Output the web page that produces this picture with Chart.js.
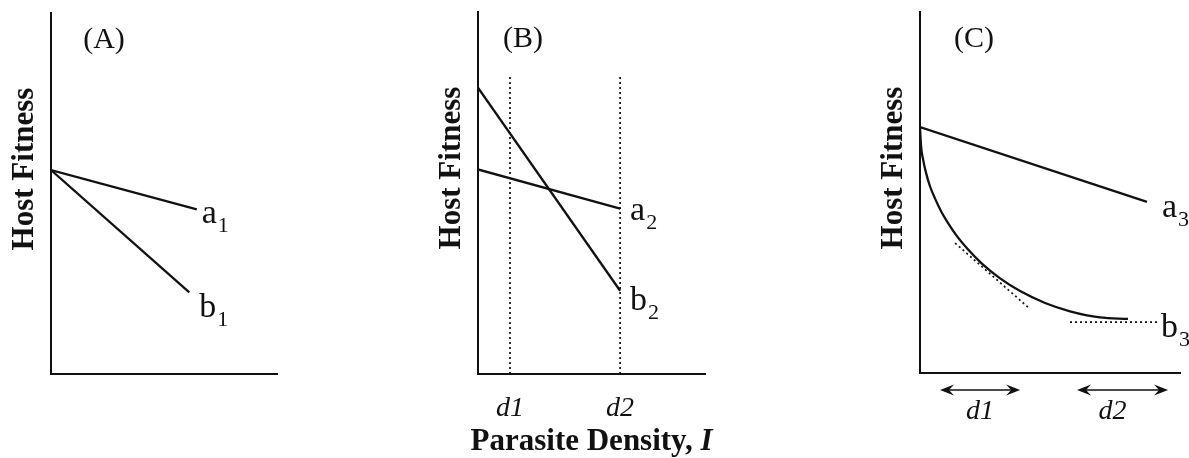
<!DOCTYPE html>
<html>
<head>
<meta charset="utf-8">
<script src="https://cdn.jsdelivr.net/npm/chart.js@4.4.1/dist/chart.umd.min.js"></script>
<style>
  body { margin: 0; background: #fff; }
  .panel { position: absolute; top: 0; height: 458px; }
</style>
</head>
<body>
<div class="panel" style="left:0;width:300px"><canvas id="panelA"></canvas></div>
<div class="panel" style="left:400px;width:340px"><canvas id="panelB"></canvas></div>
<div class="panel" style="left:850px;width:339px"><canvas id="panelC"></canvas></div>
<script>
// arbitrary units, both axes 0..10
const axisMin = 0;
const axisMax = 10;

// (A)
const a1 = [[0, 5.65], [6.45, 4.56]];
const b1 = [[0, 5.65], [6.12, 2.26]];

// (B)
const a2 = [[0, 5.65], [6.26, 4.57]];
const b2 = [[0, 7.91], [6.26, 2.30]];
const densityMarks = [1.41, 6.26];
const densityTop = 8.28;
const densityLabels = ['d1', 'd2'];

// (C)
const a3 = [[0, 6.81], [8.73, 4.74]];
const b3 = [[0, 6.81], [0.04, 6.29], [0.12, 5.91], [0.23, 5.55], [0.38, 5.18], [0.58, 4.83],
            [0.81, 4.48], [1.08, 4.15], [1.42, 3.79], [1.85, 3.42], [2.38, 3.03], [3.08, 2.62],
            [3.85, 2.27], [4.81, 1.94], [5.77, 1.71], [6.92, 1.54], [8.0, 1.50]];
const b3Slope = [[1.35, 3.60], [4.19, 1.80]];
const b3Floor = [[5.77, 1.41], [9.12, 1.41]];
const rangeArrows = [[0.77, 3.85], [6.04, 9.54]];
const rangeLabelPos = [2.31, 7.4];

const ink = '#111';
const serif = '"Liberation Serif", "Times New Roman", serif';

const pts = arr => arr.map(p => ({x: p[0], y: p[1]}));
const last = arr => arr[arr.length - 1];

function solid(arr, extra) {
    return Object.assign({data: pts(arr), borderColor: ink, borderWidth: 2.3, pointRadius: 0, tension: 0}, extra || {});
}
function dotted(arr) {
    return {data: pts(arr), borderColor: ink, borderWidth: 1.7, borderDash: [2, 3], pointRadius: 0, tension: 0};
}

function drawArrowHead(ctx, x, y, dir) {
    ctx.beginPath();
    ctx.moveTo(x, y);
    ctx.lineTo(x - dir * 14, y - 5.5);
    ctx.lineTo(x - dir * 9, y);
    ctx.lineTo(x - dir * 14, y + 5.5);
    ctx.closePath();
    ctx.fill();
}

function figureText(cfg) {
    return {
        id: 'figureText',
        afterDraw(chart) {
            const {ctx, chartArea: area} = chart;
            const x = chart.scales.x, y = chart.scales.y;
            ctx.save();
            ctx.fillStyle = ink;
            ctx.strokeStyle = ink;
            ctx.textBaseline = 'alphabetic';

            ctx.font = '30px ' + serif;
            ctx.textAlign = 'center';
            ctx.fillText(cfg.panel, area.left + cfg.panelDx, area.top + 35);

            ctx.save();
            ctx.translate(area.left - 18, area.top + 156);
            ctx.rotate(-Math.PI / 2);
            ctx.font = 'bold 31px ' + serif;
            ctx.fillText('Host Fitness', 0, 0);
            ctx.restore();

            ctx.textAlign = 'left';
            cfg.labels.forEach(l => {
                const px = x.getPixelForValue(l.at[0]) + l.dx;
                const py = y.getPixelForValue(l.at[1]) + l.dy;
                ctx.font = '34px ' + serif;
                ctx.fillText(l.letter, px, py);
                const w = ctx.measureText(l.letter).width;
                ctx.font = '22px ' + serif;
                ctx.fillText(l.sub, px + w + 1, py + 9);
            });

            if (cfg.arrows) {
                const ay = area.bottom + 17;
                ctx.lineWidth = 1.3;
                cfg.arrows.forEach(r => {
                    const x1 = x.getPixelForValue(r[0]), x2 = x.getPixelForValue(r[1]);
                    ctx.beginPath();
                    ctx.moveTo(x1 + 6, ay);
                    ctx.lineTo(x2 - 6, ay);
                    ctx.stroke();
                    drawArrowHead(ctx, x1, ay, -1);
                    drawArrowHead(ctx, x2, ay, 1);
                });
            }

            if (cfg.xTitle) {
                const part1 = 'Parasite Density, ';
                const part2 = 'I';
                ctx.font = 'bold 31px ' + serif;
                const w1 = ctx.measureText(part1).width;
                ctx.font = 'italic bold 31px ' + serif;
                const w2 = ctx.measureText(part2).width;
                const cx = (area.left + area.right) / 2;
                const sx = cx - (w1 + w2) / 2;
                ctx.font = 'bold 31px ' + serif;
                ctx.fillText(part1, sx, area.bottom + 76);
                ctx.font = 'italic bold 31px ' + serif;
                ctx.fillText(part2, sx + w1, area.bottom + 76);
            }
            ctx.restore();
        }
    };
}

// bottomSpace: room under the x axis (kept inside the scale box so tick labels are not clipped)
function makeScales(bottomSpace, tickValues, tickNames, tickPad) {
    const border = {display: true, color: ink, width: 2};
    const x = {
        type: 'linear', min: axisMin, max: axisMax,
        grid: {display: false, drawTicks: false},
        border: border,
        ticks: {display: false},
        afterFit: s => { s.height = bottomSpace; }
    };
    if (tickValues) {
        x.ticks = {
            display: true, autoSkip: false, maxRotation: 0, minRotation: 0, padding: tickPad, color: ink,
            font: {family: serif, size: 28, style: 'italic'},
            callback: (v, i) => tickNames[i]
        };
        x.afterBuildTicks = s => { s.ticks = tickValues.map(v => ({value: v})); };
    }
    return {
        x: x,
        y: {
            type: 'linear', min: axisMin, max: axisMax,
            grid: {display: false, drawTicks: false},
            border: border,
            ticks: {display: false},
            afterFit: s => { s.width = 0; }
        }
    };
}

function baseOptions(padding, scales) {
    return {
        responsive: true,
        maintainAspectRatio: false,
        animation: false,
        events: [],
        layout: {padding: padding},
        plugins: {legend: {display: false}, tooltip: {enabled: false}},
        scales: scales
    };
}

new Chart(document.getElementById('panelA'), {
    type: 'line',
    data: {datasets: [solid(a1), solid(b1)]},
    options: baseOptions({left: 51, top: 13, right: 23, bottom: 0}, makeScales(84)),
    plugins: [figureText({
        panel: '(A)', panelDx: 53,
        labels: [
            {letter: 'a', sub: '1', at: last(a1), dx: 5, dy: 14},
            {letter: 'b', sub: '1', at: last(b1), dx: 10, dy: 25}
        ]
    })]
});

new Chart(document.getElementById('panelB'), {
    type: 'line',
    data: {datasets: [
        solid(a2), solid(b2),
        ...densityMarks.map(d => dotted([[d, 0], [d, densityTop]]))
    ]},
    options: baseOptions({left: 78, top: 12, right: 35, bottom: 0}, makeScales(84, densityMarks, densityLabels, 17.75)),
    plugins: [figureText({
        panel: '(B)', panelDx: 45,
        labels: [
            {letter: 'a', sub: '2', at: last(a2), dx: 10, dy: 11},
            {letter: 'b', sub: '2', at: last(b2), dx: 10, dy: 19}
        ],
        xTitle: true
    })]
});

new Chart(document.getElementById('panelC'), {
    type: 'line',
    data: {datasets: [
        solid(a3),
        solid(b3, {cubicInterpolationMode: 'monotone'}),
        dotted(b3Slope),
        dotted(b3Floor)
    ]},
    options: baseOptions({left: 70, top: 12, right: 9, bottom: 0}, makeScales(85, rangeLabelPos, densityLabels, 21.75)),
    plugins: [figureText({
        panel: '(C)', panelDx: 54,
        labels: [
            {letter: 'a', sub: '3', at: last(a3), dx: 15, dy: 15},
            {letter: 'b', sub: '3', at: last(b3Floor), dx: 4, dy: 15}
        ],
        arrows: rangeArrows
    })]
});
</script>
</body>
</html>
